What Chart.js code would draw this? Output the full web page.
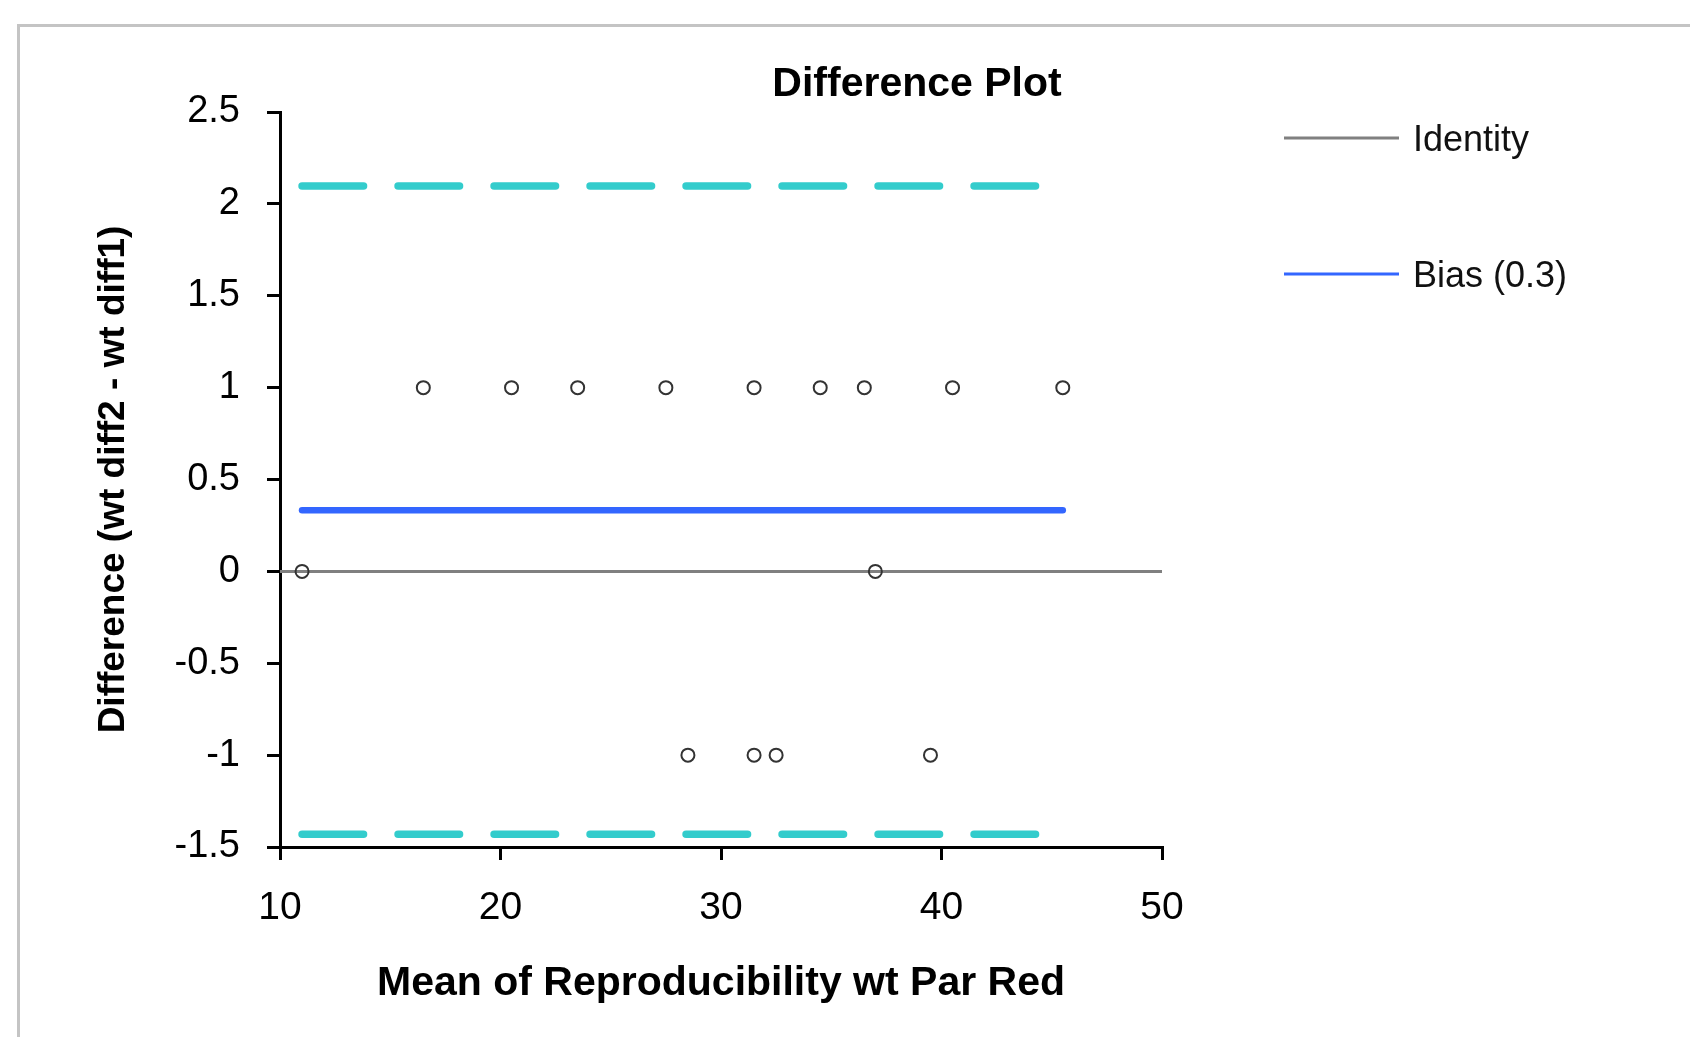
<!DOCTYPE html>
<html>
<head>
<meta charset="utf-8">
<title>Difference Plot</title>
<script src="https://cdn.jsdelivr.net/npm/chart.js@4.4.1/dist/chart.umd.min.js"></script>
<style>
  html, body { margin: 0; padding: 0; background: #fff; }
  #wrap { position: relative; width: 1690px; height: 1037px; overflow: hidden; }
  #frame { position: absolute; left: 17px; top: 24px; width: 1800px; height: 1100px; border: 3px solid #c4c4c4; box-sizing: border-box; }
  #chart { position: absolute; left: 0; top: 0; }
</style>
</head>
<body>
<div id="wrap">
  <div id="frame"></div>
  <canvas id="chart" width="1690" height="1037"></canvas>
</div>
<script>
// scatter points (mean, difference)
const meanVals = [16.5, 20.5, 23.5, 27.5, 31.5, 34.5, 36.5, 40.5, 45.5, 11, 37, 28.5, 31.5, 32.5, 39.5];
const diffVals = [1, 1, 1, 1, 1, 1, 1, 1, 1, 0, 0, -1, -1, -1, -1];

// reference lines
const identityX = [10, 50];
const identityY = [0, 0];
const biasX = [11, 45.5];
const biasY = [0.333, 0.333];
const upperX = [11, 45.5];
const upperY = [2.097, 2.097];
const lowerX = [11, 45.5];
const lowerY = [-1.43, -1.43];

const xTicks = [10, 20, 30, 40, 50];
const xTickLabels = ["10", "20", "30", "40", "50"];
const yTicks = [-1.5, -1, -0.5, 0, 0.5, 1, 1.5, 2, 2.5];
const yTickLabels = ["-1.5", "-1", "-0.5", "0", "0.5", "1", "1.5", "2", "2.5"];

const chartTitle = "Difference Plot";
const xTitle = "Mean of Reproducibility wt Par Red";
const yTitle = "Difference (wt diff2 - wt diff1)";

const FONT = "'Liberation Sans', Arial, sans-serif";

const toPts = (xs, ys) => xs.map((x, i) => ({ x: x, y: ys[i] }));

const labelsPlugin = {
    id: "labelsPlugin",
    afterDraw(chart) {
        const c = chart.ctx;
        c.save();
        c.fillStyle = "#000";
        c.font = "bold 41px " + FONT;
        c.textAlign = "center";
        c.textBaseline = "alphabetic";
        c.fillText(chartTitle, 917, 96);

        // legend: only the identity and bias lines
        const items = chart.data.datasets.filter(d => d.showInLegend);
        const rows = [138, 274];
        items.forEach((d, i) => {
            const y = rows[i];
            c.strokeStyle = d.borderColor;
            c.lineWidth = 3;
            c.beginPath();
            c.moveTo(1284, y);
            c.lineTo(1399, y);
            c.stroke();
            c.fillStyle = "#111";
            c.font = "36px " + FONT;
            c.textAlign = "left";
            c.fillText(d.label, 1413, y + 13);
        });
        c.restore();
    }
};

const ctx = document.getElementById("chart");

new Chart(ctx, {
    type: "scatter",
    data: {
        datasets: [
            {
                label: "Data",
                data: toPts(meanVals, diffVals),
                showLine: false,
                pointStyle: "circle",
                pointRadius: 6.5,
                pointBorderWidth: 2,
                pointBorderColor: "#333",
                pointBackgroundColor: "rgba(255,255,255,0)"
            },
            {
                label: "Identity",
                showInLegend: true,
                data: toPts(identityX, identityY),
                showLine: true,
                borderColor: "#808080",
                borderWidth: 3,
                pointRadius: 0
            },
            {
                label: "Bias (0.3)",
                showInLegend: true,
                data: toPts(biasX, biasY),
                showLine: true,
                borderColor: "#3366ff",
                borderWidth: 6.5,
                borderCapStyle: "round",
                pointRadius: 0
            },
            {
                label: "Upper LoA",
                data: toPts(upperX, upperY),
                showLine: true,
                borderColor: "#33cccc",
                borderWidth: 7.5,
                borderCapStyle: "round",
                borderDash: [61.5, 34.5],
                pointRadius: 0
            },
            {
                label: "Lower LoA",
                data: toPts(lowerX, lowerY),
                showLine: true,
                borderColor: "#33cccc",
                borderWidth: 7.5,
                borderCapStyle: "round",
                borderDash: [61.5, 34.5],
                pointRadius: 0
            }
        ]
    },
    options: {
        responsive: false,
        animation: false,
        events: [],
        layout: {
            padding: { left: 0, top: 112, right: 528, bottom: 0 }
        },
        plugins: {
            legend: { display: false },
            title: { display: false },
            tooltip: { enabled: false }
        },
        scales: {
            x: {
                type: "linear",
                min: 10,
                max: 50,
                afterBuildTicks: (s) => { s.ticks = xTicks.map(v => ({ value: v })); },
                afterFit: (s) => { s.height = 190; },
                ticks: {
                    color: "#000",
                    font: { family: FONT, size: 39 },
                    padding: 25,
                    maxRotation: 0,
                    callback: (v, i) => xTickLabels[i]
                },
                grid: {
                    display: true,
                    drawOnChartArea: false,
                    drawTicks: true,
                    tickLength: 13,
                    color: "#000",
                    lineWidth: 3
                },
                border: { display: true, color: "#000", width: 3 },
                title: {
                    display: true,
                    text: xTitle,
                    color: "#000",
                    font: { family: FONT, size: 41, weight: "bold" },
                    padding: { top: 0, bottom: 29 }
                }
            },
            y: {
                type: "linear",
                min: -1.5,
                max: 2.5,
                afterBuildTicks: (s) => { s.ticks = yTicks.map(v => ({ value: v })); },
                afterFit: (s) => { s.width = 280; },
                ticks: {
                    color: "#000",
                    font: { family: FONT, size: 38 },
                    padding: 27,
                    callback: (v, i) => yTickLabels[i]
                },
                grid: {
                    display: true,
                    drawOnChartArea: false,
                    drawTicks: true,
                    tickLength: 13,
                    color: "#000",
                    lineWidth: 3
                },
                border: { display: true, color: "#000", width: 3 },
                title: {
                    display: true,
                    text: yTitle,
                    color: "#000",
                    font: { family: FONT, size: 37, weight: "bold" },
                    padding: { top: 92, bottom: 0 }
                }
            }
        }
    },
    plugins: [labelsPlugin]
});
</script>
</body>
</html>
